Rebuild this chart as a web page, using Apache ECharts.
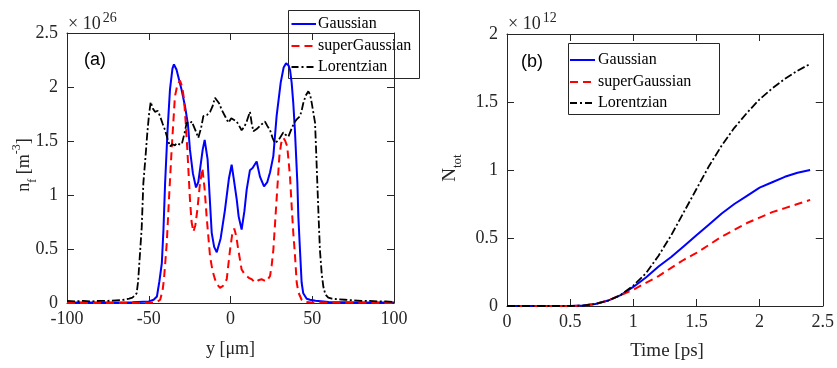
<!DOCTYPE html>
<html>
<head>
<meta charset="utf-8">
<script src="https://cdn.jsdelivr.net/npm/echarts@6/dist/echarts.min.js"></script>
<style>
html,body{margin:0;padding:0;background:#fff;}
#c{width:837px;height:368px;}
</style>
</head>
<body>
<div id="c"></div>
<script>
// ---------- Panel (a): n_f vs y [µm] (values in units of 1e26 m^-3) ----------
const gaussX = [-100,-80,-60,-50,-47,-45,-43.5,-42,-41,-40,-38.5,-37,-35.5,-34.6,-33,-32,-30,-27.8,-26,-24.8,-23,-21.1,-19.7,-18.7,-17,-15.8,-14,-12.8,-11.5,-10,-8.4,-6,-3.4,-1,0.7,2,3.8,5,6.8,8.5,9.9,11.9,13.5,16,18,20.5,22.5,24.2,26.2,28.2,30.7,32.5,34,35.5,36.4,37.4,38.4,39.4,40.9,41.5,42.5,43.5,44.5,46.6,48.6,52,60,80,100];
const gaussY = [0.005,0.005,0.008,0.015,0.03,0.06,0.2,0.37,0.68,1.11,1.6,1.98,2.17,2.21,2.16,2.10,1.98,1.82,1.65,1.42,1.2,1.07,1.12,1.23,1.42,1.51,1.33,1.0,0.65,0.52,0.47,0.6,0.86,1.15,1.28,1.15,0.96,0.8,0.68,0.85,1.05,1.23,1.25,1.31,1.17,1.08,1.12,1.21,1.36,1.73,2.04,2.18,2.22,2.2,2.16,2.04,1.85,1.6,1.11,0.8,0.49,0.19,0.09,0.04,0.03,0.02,0.01,0.005,0.005];

const superX = [-100,-60,-47,-45,-43,-41.5,-40.7,-39,-37.5,-36,-34,-32.5,-30.9,-29.5,-28.4,-27.3,-26.4,-24.8,-23.8,-22.7,-21.5,-20.3,-18.7,-17.2,-15.8,-14.6,-12.5,-11,-9.5,-8,-6.4,-4.5,-2.3,-0.3,1,2.3,3.5,4.8,6.8,8.5,9.9,11.5,13,15,17,19,20.5,22,24.2,25.2,26.2,28.2,29.9,31,32.3,33.5,34.7,36.4,37.4,38.4,39.4,40.5,41.5,43.5,45,50,100];
const superY = [0,0,0.005,0.01,0.03,0.12,0.22,0.55,1.0,1.42,1.91,2.02,2.06,2.0,1.88,1.65,1.42,0.96,0.75,0.66,0.72,0.86,1.1,1.25,1.05,0.80,0.43,0.3,0.22,0.17,0.14,0.16,0.22,0.49,0.63,0.69,0.62,0.49,0.31,0.27,0.25,0.23,0.22,0.19,0.21,0.22,0.21,0.20,0.25,0.35,0.49,0.96,1.36,1.48,1.53,1.5,1.45,1.17,0.9,0.65,0.45,0.19,0.1,0.03,0.01,0.005,0];

const lorentzX = [-100,-95,-90,-85,-80,-75,-70,-65,-62,-60,-58.5,-57.4,-56.5,-55.4,-54.3,-53.3,-52,-50.9,-49.8,-48.8,-47.5,-46.2,-44.5,-43.1,-41.5,-40,-38.5,-37,-35.5,-34,-32.9,-31.5,-29.8,-28,-26.8,-25,-23.7,-21.5,-19.7,-18,-16.6,-14.5,-12.5,-11,-9.5,-8.4,-7,-5.4,-3,-1.3,0.5,1.7,3.8,5.3,6.8,8.4,9.9,11.9,13,14,16,18,19.5,21.1,22.5,24.2,25.7,27.2,28.8,30.3,32.3,33.5,35.4,37,38.4,39.4,40.5,42.5,43.5,44.5,46,47.6,48.7,49.7,50.7,51.7,52.4,53.1,54,54.7,55.8,56.8,58,59.8,62,65,70,75,80,85,90,95,100];
const lorentzY = [0.02,0.015,0.02,0.015,0.02,0.02,0.025,0.03,0.04,0.05,0.07,0.09,0.2,0.45,0.7,1.11,1.35,1.57,1.75,1.86,1.8,1.77,1.78,1.73,1.66,1.60,1.52,1.45,1.47,1.46,1.48,1.47,1.47,1.58,1.67,1.66,1.68,1.6,1.53,1.62,1.73,1.74,1.77,1.82,1.90,1.89,1.85,1.79,1.72,1.67,1.71,1.70,1.68,1.64,1.60,1.63,1.68,1.77,1.66,1.59,1.61,1.64,1.66,1.68,1.64,1.60,1.53,1.48,1.50,1.53,1.58,1.56,1.54,1.60,1.65,1.68,1.70,1.73,1.78,1.85,1.92,1.96,1.93,1.85,1.76,1.67,1.4,1.11,0.75,0.49,0.27,0.15,0.08,0.05,0.04,0.035,0.03,0.025,0.02,0.02,0.015,0.015,0.01];

// ---------- Panel (b): N_tot vs Time [ps] (values in units of 1e12) ----------
const timeB    = [0,0.5,0.6,0.7,0.8,0.9,1.0,1.1,1.2,1.3,1.4,1.5,1.6,1.7,1.8,1.9,2.0,2.1,2.2,2.3,2.4];
const gaussB   = [0,0,0.003,0.015,0.04,0.08,0.14,0.21,0.29,0.36,0.44,0.52,0.60,0.68,0.75,0.81,0.87,0.91,0.95,0.98,1.00];
const superB   = [0,0,0.003,0.015,0.04,0.08,0.12,0.17,0.22,0.28,0.34,0.39,0.45,0.51,0.56,0.61,0.65,0.69,0.72,0.75,0.78];
const lorentzB = [0,0,0.003,0.015,0.04,0.08,0.15,0.24,0.37,0.52,0.69,0.86,1.03,1.18,1.31,1.42,1.52,1.60,1.67,1.73,1.78];

const names = ['Gaussian','superGaussian','Lorentzian'];

function pairs(xs, ys){ return xs.map((x,i)=>[x, ys[i]]); }

const SERIF = '"Liberation Serif", "Times New Roman", serif';
const AX = '#262626';

const styles = {
  Gaussian: {color:'#0000ff', width:2, type:'solid', dash:null},
  superGaussian: {color:'#ff0000', width:2, type:[8,5], dash:[8,5]},
  Lorentzian: {color:'#000000', width:1.8, type:[8,2.5,2,2.5], dash:[7,3,2,3]}
};

function xAx(grid, min, max, interval, pos, labels){
  return {
    type:'value', gridIndex:grid, position:pos, min:min, max:max, interval:interval,
    axisLine:{show:true, onZero:false, lineStyle:{color:AX, width:1}},
    axisTick:{show:true, inside:true, length:7, lineStyle:{color:AX}},
    axisLabel:{show:labels, color:AX, fontFamily:SERIF, fontSize:18, margin:7},
    splitLine:{show:false}
  };
}
function yAx(grid, min, max, interval, pos, labels){
  return {
    type:'value', gridIndex:grid, position:pos, min:min, max:max, interval:interval,
    axisLine:{show:true, onZero:false, lineStyle:{color:AX, width:1}},
    axisTick:{show:true, inside:true, length:7, lineStyle:{color:AX}},
    axisLabel:{show:labels, color:AX, fontFamily:SERIF, fontSize:18, margin:9},
    splitLine:{show:false}
  };
}

function mk(name, data, xi, yi){
  const s = styles[name];
  return {
    name:name, type:'line', xAxisIndex:xi, yAxisIndex:yi, data:data,
    symbol:'none', smooth:false, animation:false,
    lineStyle:{color:s.color, width:s.width, type:s.type},
    itemStyle:{color:s.color}
  };
}

// custom legend box (decoration only)
function legendBox(x, y, w, h, lineX0, lineX1, textX, rowYs){
  const children = [{type:'rect', shape:{x:x, y:y, width:w, height:h}, style:{fill:'#fff', stroke:AX, lineWidth:1}}];
  names.forEach((n,i)=>{
    const s = styles[n];
    children.push({type:'line', shape:{x1:lineX0, y1:rowYs[i], x2:lineX1, y2:rowYs[i]},
      style:{stroke:s.color, lineWidth:s.width, lineDash:s.dash}});
    children.push({type:'text', x:textX, y:rowYs[i], style:{text:n, fontFamily:SERIF, fontSize:16, fill:'#000', verticalAlign:'middle', align:'left'}});
  });
  return {type:'group', silent:true, z:100, children:children};
}

const chart = echarts.init(document.getElementById('c'), null, {renderer:'canvas'});

const option = {
  animation:false,
  backgroundColor:'#fff',
  grid:[
    {left:67, top:33, width:327, height:270, show:false},
    {left:507, top:34, width:321, height:272, show:false}
  ],
  xAxis:[
    xAx(0,-100,100,50,'bottom',true),
    xAx(0,-100,100,50,'top',false),
    xAx(1,0,2.5,0.5,'bottom',true),
    xAx(1,0,2.5,0.5,'top',false)
  ],
  yAxis:[
    yAx(0,0,2.5,0.5,'left',true),
    yAx(0,0,2.5,0.5,'right',false),
    yAx(1,0,2,0.5,'left',true),
    yAx(1,0,2,0.5,'right',false)
  ],
  series:[
    mk('Gaussian', pairs(gaussX,gaussY), 0, 0),
    mk('superGaussian', pairs(superX,superY), 0, 0),
    mk('Lorentzian', pairs(lorentzX,lorentzY), 0, 0),
    mk('Gaussian', pairs(timeB,gaussB), 2, 2),
    mk('superGaussian', pairs(timeB,superB), 2, 2),
    mk('Lorentzian', pairs(timeB,lorentzB), 2, 2)
  ],
  graphic:[
    legendBox(288.5, 10.5, 131, 68, 291.5, 316, 318, [24, 46, 67]),
    legendBox(568.5, 43.5, 151, 71, 570, 595, 598, [60, 82, 103]),
    {type:'text', left:68, top:11, silent:true, style:{
      text:'{m|× 10}{s|26}', rich:{
        m:{fontFamily:SERIF, fontSize:18, fill:AX, lineHeight:22, verticalAlign:'bottom'},
        s:{fontFamily:SERIF, fontSize:14, fill:AX, lineHeight:22, verticalAlign:'top', padding:[0,0,7,2]}
      }}},
    {type:'text', left:508, top:11, silent:true, style:{
      text:'{m|× 10}{s|12}', rich:{
        m:{fontFamily:SERIF, fontSize:18, fill:AX, lineHeight:22, verticalAlign:'bottom'},
        s:{fontFamily:SERIF, fontSize:14, fill:AX, lineHeight:22, verticalAlign:'top', padding:[0,0,7,2]}
      }}},
    {type:'text', x:95, y:60, silent:true, style:{text:'(a)', fontFamily:'"Liberation Sans", Arial, sans-serif', fontSize:18, fill:'#000', align:'center', verticalAlign:'middle'}},
    {type:'text', x:532, y:62, silent:true, style:{text:'(b)', fontFamily:'"Liberation Sans", Arial, sans-serif', fontSize:18, fill:'#000', align:'center', verticalAlign:'middle'}},
    {type:'text', x:230.5, y:349, silent:true, style:{text:'y [μm]', fontFamily:SERIF, fontSize:18, fill:AX, align:'center', verticalAlign:'middle'}},
    {type:'text', x:667, y:351, silent:true, style:{text:'Time [ps]', fontFamily:SERIF, fontSize:19, fill:AX, align:'center', verticalAlign:'middle'}},
    {type:'text', x:24, y:165, rotation:Math.PI/2, silent:true, style:{
      text:'{m|n}{b|f}{m| [m}{p|-3}{m|]}', align:'center', verticalAlign:'middle', rich:{
        m:{fontFamily:SERIF, fontSize:18, fill:AX, lineHeight:26, verticalAlign:'middle'},
        b:{fontFamily:SERIF, fontSize:12, fill:AX, lineHeight:12, verticalAlign:'bottom', padding:[0,0,-2,0]},
        p:{fontFamily:SERIF, fontSize:12, fill:AX, lineHeight:12, verticalAlign:'top'}
      }}},
    {type:'text', x:450, y:168, rotation:Math.PI/2, silent:true, style:{
      text:'{m|N}{b|tot}', align:'center', verticalAlign:'middle', rich:{
        m:{fontFamily:SERIF, fontSize:19, fill:AX, lineHeight:24, verticalAlign:'middle'},
        b:{fontFamily:SERIF, fontSize:13, fill:AX, lineHeight:13, verticalAlign:'bottom', padding:[0,0,-2,0]}
      }}}
  ]
};
chart.setOption(option);
</script>
</body>
</html>
